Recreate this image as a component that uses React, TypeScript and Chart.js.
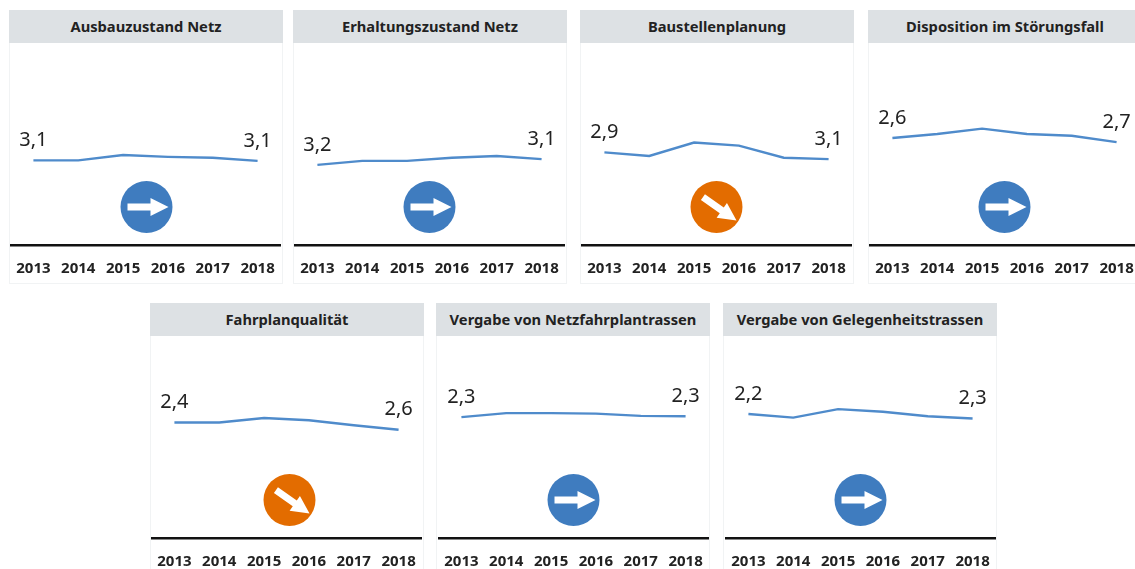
import React, { useEffect, useRef } from "react";
import { Chart, registerables } from "chart.js";

Chart.register(...registerables);

const years = ["2013", "2014", "2015", "2016", "2017", "2018"];
const titles = [
  "Ausbauzustand Netz",
  "Erhaltungszustand Netz",
  "Baustellenplanung",
  "Disposition im Störungsfall",
  "Fahrplanqualität",
  "Vergabe von Netzfahrplantrassen",
  "Vergabe von Gelegenheitstrassen",
];
const ausbauzustand = [3.11, 3.11, 2.99, 3.03, 3.05, 3.12];
const erhaltungszustand = [3.21, 3.12, 3.12, 3.05, 3.01, 3.08];
const baustellen = [2.93, 3.01, 2.71, 2.78, 3.05, 3.08];
const disposition = [2.61, 2.52, 2.4, 2.52, 2.56, 2.7];
const fahrplan = [2.42, 2.42, 2.32, 2.37, 2.48, 2.58];
const netzfahrplan = [2.3, 2.21, 2.21, 2.22, 2.27, 2.28];
const gelegenheit = [2.23, 2.31, 2.12, 2.18, 2.28, 2.33];
const seriesList = [ausbauzustand, erhaltungszustand, baustellen, disposition, fahrplan, netzfahrplan, gelegenheit];
const firstLabels = ["3,1", "3,2", "2,9", "2,6", "2,4", "2,3", "2,2"];
const lastLabels = ["3,1", "3,1", "3,1", "2,7", "2,6", "2,3", "2,3"];
const trends = ["flat", "flat", "down", "flat", "down", "flat", "flat"];

const panelLeft = [9, 293, 580, 868, 150, 436, 723];
const panelTop = [10, 10, 10, 10, 303, 303, 303];
const plotPadLeft = [2, 2, 2, 2, 2, 3, 3];
const plotPadRight = [3, 3, 3, 3, 3, 2, 2];
const circleShift = [1, 0, 0, 0, 3, 0, 0];

const BLUE = "#3f7cbf";
const ORANGE = "#e36c00";
const LINE = "#4f8bcb";
const FONT = '"Noto Sans", sans-serif';

const markers = {
  id: "markers",
  afterDatasetsDraw(chart: any, _a: any, opts: any) {
    const { ctx } = chart;
    const meta = chart.getDatasetMeta(0);
    const p0 = meta.data[0];
    const p5 = meta.data[meta.data.length - 1];
    ctx.save();
    ctx.fillStyle = "#222";
    ctx.font = `400 20px ${FONT}`;
    ctx.textAlign = "center";
    ctx.textBaseline = "middle";
    ctx.fillText(opts.first, p0.x, p0.y - 20);
    ctx.fillText(opts.last, p5.x, p5.y - 20);

    const cx = (chart.chartArea.left + chart.chartArea.right) / 2 + opts.shift;
    const cy = chart.chartArea.bottom - 38;
    const down = opts.trend === "down";
    ctx.fillStyle = down ? ORANGE : BLUE;
    ctx.beginPath();
    ctx.arc(cx, cy, 26, 0, Math.PI * 2);
    ctx.fill();
    ctx.translate(cx + (down ? 2 : 0), cy + (down ? 1 : 0));
    if (down) ctx.rotate((35 * Math.PI) / 180);
    ctx.fillStyle = "#fff";
    ctx.beginPath();
    ctx.moveTo(-19, -3.5);
    ctx.lineTo(4, -3.5);
    ctx.lineTo(4, -9);
    ctx.lineTo(22, 0);
    ctx.lineTo(4, 9);
    ctx.lineTo(4, 3.5);
    ctx.lineTo(-19, 3.5);
    ctx.closePath();
    ctx.fill();
    ctx.restore();
  },
};

function Panel({ index }: { index: number }) {
  const ref = useRef<HTMLCanvasElement>(null);
  useEffect(() => {
    const chart = new Chart(ref.current as HTMLCanvasElement, {
      type: "line",
      data: {
        labels: years,
        datasets: [
          {
            data: seriesList[index],
            borderColor: LINE,
            borderWidth: 2.4,
            pointRadius: 0,
            tension: 0,
            clip: false,
          },
        ],
      },
      options: {
        animation: false,
        responsive: false,
        layout: { padding: { top: 23, left: plotPadLeft[index], right: plotPadRight[index], bottom: 0 } },
        plugins: {
          legend: { display: false },
          tooltip: { enabled: false },
          markers: { first: firstLabels[index], last: lastLabels[index], trend: trends[index], shift: circleShift[index] },
        } as any,
        scales: {
          x: {
            offset: true,
            afterFit: (s: any) => {
              s.height = 39;
              s.paddingLeft = 0;
              s.paddingRight = 0;
            },
            grid: { display: false, drawTicks: false },
            border: { display: true, color: "#111", width: 2.5 },
            ticks: {
              autoSkip: false,
              maxRotation: 0,
              padding: 15,
              color: "#222",
              font: { family: FONT, size: 15, weight: "bold" },
            },
          },
          y: { display: false, reverse: true, min: 1, max: 5 },
        },
      },
      plugins: [markers as any],
    });
    return () => chart.destroy();
  }, [index]);

  return (
    <div
      style={{
        position: "absolute",
        left: panelLeft[index],
        top: panelTop[index],
        width: 274,
        height: 274,
        boxSizing: "border-box",
        border: "1px solid #f1f3f4",
        borderTop: "none",
        background: "#fff",
      }}
    >
      <div
        style={{
          height: 33,
          lineHeight: "33px",
          margin: "0 -1px",
          background: "#dde1e4",
          textAlign: "center",
          fontFamily: FONT,
          fontWeight: 700,
          fontSize: 14.7,
          color: "#222",
          whiteSpace: "nowrap",
        }}
      >
        {titles[index]}
      </div>
      <canvas ref={ref} width={274} height={241} style={{ display: "block", position: "absolute", left: -1, top: 33 }} />
    </div>
  );
}

export default function App() {
  return (
    <div style={{ position: "fixed", left: 0, top: 0, width: 1135, height: 569, overflow: "hidden", background: "#fff", filter: "blur(0.45px)" }}>
      {titles.map((_, i) => (
        <Panel key={i} index={i} />
      ))}
    </div>
  );
}
